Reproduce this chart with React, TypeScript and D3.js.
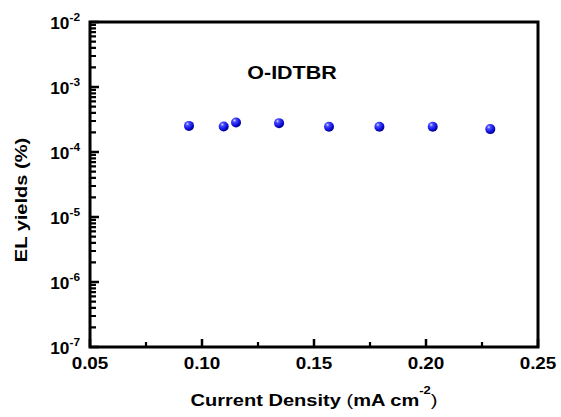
import React from "react";
import * as d3 from "d3";

const currentDensity = [0.0942, 0.1097, 0.1152, 0.1344, 0.1567, 0.1792, 0.203, 0.2287];
const elYield = [2.52e-4, 2.47e-4, 2.85e-4, 2.78e-4, 2.44e-4, 2.44e-4, 2.44e-4, 2.25e-4];
const xTicks = [0.05, 0.1, 0.15, 0.2, 0.25];
const xMinorTicks = [0.075, 0.125, 0.175, 0.225];
const yExponents = [-2, -3, -4, -5, -6, -7];
const seriesLabel = "O-IDTBR";

const W = 561, H = 417;
const L = 90, R = 538, T = 22, B = 347;
const FONT = "'Liberation Sans', Arial, sans-serif";
const SX = 1.18;

export default function App() {
  const x = d3.scaleLinear().domain([0.05, 0.25]).range([L, R]);
  const y = d3.scaleLog().domain([1e-7, 1e-2]).range([B, T]);
  const minorY: number[] = [];
  for (let e = -7; e < -2; e++) for (let m = 2; m <= 9; m++) minorY.push(m * Math.pow(10, e));

  let majorPath = "";
  let minorPath = "";
  yExponents.forEach((e) => {
    majorPath += `M${L},${y(Math.pow(10, e))}h9`;
  });
  minorY.forEach((v) => {
    minorPath += `M${L},${y(v)}h6`;
  });
  xTicks.forEach((v) => {
    majorPath += `M${x(v)},${B}v-8`;
  });
  xMinorTicks.forEach((v) => {
    minorPath += `M${x(v)},${B}v-5`;
  });

  return (
    <svg width={W} height={H} style={{ position: "absolute", left: 0, top: 0, background: "#fff" }}>
      <defs>
        <radialGradient id="ball" cx="0.35" cy="0.3" r="0.7">
          <stop offset="0" stopColor="#d8dcff" />
          <stop offset="0.25" stopColor="#4a4cff" />
          <stop offset="0.7" stopColor="#1010e0" />
          <stop offset="1" stopColor="#000090" />
        </radialGradient>
      </defs>
      <rect x={L} y={T} width={R - L} height={B - T} fill="none" stroke="#000" strokeWidth={3} />
      <path d={majorPath} stroke="#000" strokeWidth={2.5} fill="none" />
      <path d={minorPath} stroke="#000" strokeWidth={2.2} fill="none" />
      <g fontFamily={FONT} fontWeight="bold" fill="#000">
        {yExponents.map((e) => (
          <g key={"yl" + e} transform={`translate(80,${y(Math.pow(10, e)) + 7}) scale(1.08,1)`}>
            <text fontSize={16} textAnchor="end">
              10
              <tspan fontSize={11} dy={-8}>{e}</tspan>
            </text>
          </g>
        ))}
        {xTicks.map((v) => (
          <g key={"xl" + v} transform={`translate(${x(v)},369) scale(${SX},1)`}>
            <text fontSize={16} textAnchor="middle">{v.toFixed(2)}</text>
          </g>
        ))}
        <g transform={`translate(314,406) scale(${SX},1)`}>
          <text fontSize={17} textAnchor="middle">
            Current Density
            <tspan fontWeight="normal"> (</tspan>mA cm
            <tspan fontSize={11} dy={-12}>-2</tspan>
            <tspan fontWeight="normal" dy={12}>)</tspan>
          </text>
        </g>
        <g transform={`translate(27,200) rotate(-90) scale(${SX},1)`}>
          <text fontSize={17} textAnchor="middle">EL yields (%)</text>
        </g>
        <g transform={`translate(292,79) scale(1.13,1)`}>
          <text fontSize={19} textAnchor="middle">{seriesLabel}</text>
        </g>
      </g>
      {currentDensity.map((v, i) => (
        <circle key={"p" + i} cx={x(v)} cy={y(elYield[i])} r={5} fill="url(#ball)" />
      ))}
    </svg>
  );
}
